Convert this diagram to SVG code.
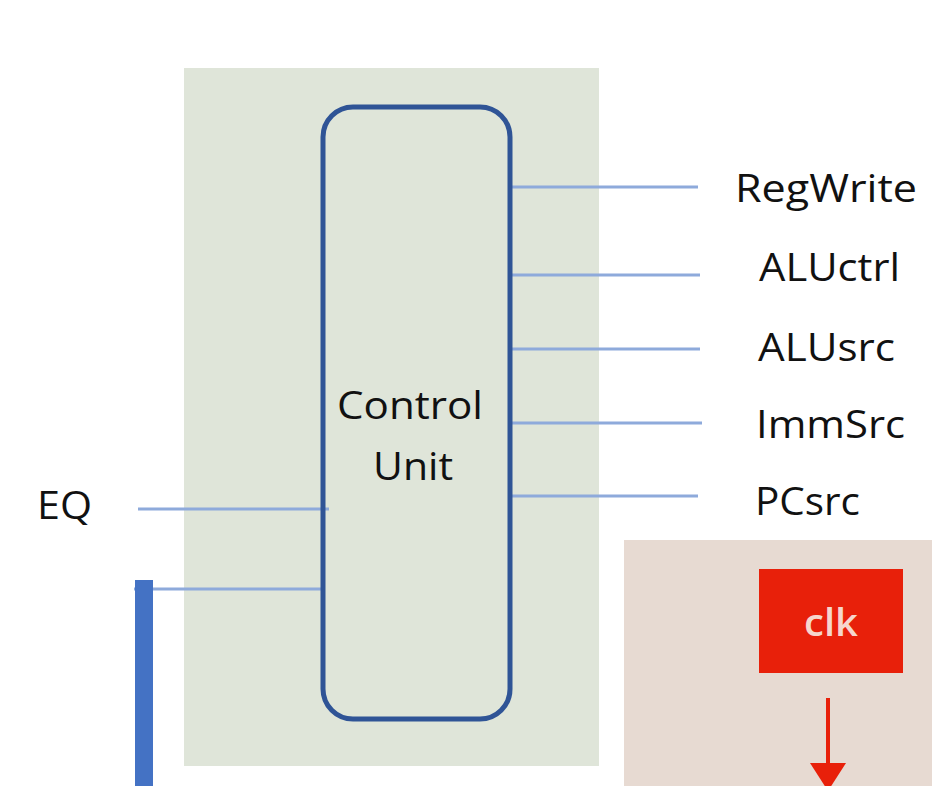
<svg xmlns="http://www.w3.org/2000/svg" width="932" height="786" viewBox="0 0 932 786">
<defs>
<style>
.lbl{font-family:"Open Sans","Noto Sans","Liberation Sans",sans-serif;font-size:38px;fill:#111;}
.sig{stroke:#8eaadb;stroke-width:3;fill:none;}
</style>
<marker id="ah" viewBox="0 0 28 36" refX="0" refY="18" markerWidth="28" markerHeight="36" markerUnits="userSpaceOnUse" orient="auto">
<polygon points="0,0 28,18 0,36" fill="#e8200a"/>
</marker>
</defs>
<rect width="932" height="786" fill="#ffffff"/>
<g id="panel-green"><rect x="184" y="68" width="415" height="698" fill="#dfe5d9"/></g>
<g id="panel-red"><rect x="624" y="540" width="308" height="246" fill="#e7dad2"/></g>
<g id="connectors">
<line class="sig" x1="512" y1="187" x2="698" y2="187"/>
<line class="sig" x1="512" y1="275" x2="700" y2="275"/>
<line class="sig" x1="512" y1="349" x2="700" y2="349"/>
<line class="sig" x1="512" y1="423" x2="702" y2="423"/>
<line class="sig" x1="512" y1="496" x2="698" y2="496"/>
<line class="sig" x1="138" y1="509" x2="329" y2="509"/>
<line class="sig" x1="134" y1="589" x2="322" y2="589"/>
<line x1="828" y1="698" x2="828" y2="763" stroke="#e8200a" stroke-width="4" marker-end="url(#ah)"/>
</g>
<g id="control-unit">
<rect x="323" y="107" width="187" height="612" rx="30" ry="30" fill="none" stroke="#2f5496" stroke-width="5"/>
<text class="lbl" x="337" y="419" textLength="146" lengthAdjust="spacingAndGlyphs">Control</text>
<text class="lbl" x="373" y="480" textLength="80" lengthAdjust="spacingAndGlyphs">Unit</text>
</g>
<g id="bus"><rect x="135" y="580" width="18" height="206" fill="#4472c4"/></g>
<g id="clk">
<rect x="759" y="569" width="144" height="104" fill="#e8200a"/>
<text x="804" y="636" font-family="Open Sans, Noto Sans, sans-serif" font-size="37" font-weight="600" fill="#f6d6cd" textLength="54" lengthAdjust="spacingAndGlyphs">clk</text>
</g>
<g id="labels">
<text class="lbl" x="735" y="202" textLength="182" lengthAdjust="spacingAndGlyphs">RegWrite</text>
<text class="lbl" x="759" y="281" textLength="141" lengthAdjust="spacingAndGlyphs">ALUctrl</text>
<text class="lbl" x="758" y="361" textLength="137" lengthAdjust="spacingAndGlyphs">ALUsrc</text>
<text class="lbl" x="756" y="438" textLength="149" lengthAdjust="spacingAndGlyphs">ImmSrc</text>
<text class="lbl" x="755" y="515" textLength="105" lengthAdjust="spacingAndGlyphs">PCsrc</text>
<text class="lbl" x="37" y="519" textLength="55" lengthAdjust="spacingAndGlyphs">EQ</text>
</g>
</svg>
